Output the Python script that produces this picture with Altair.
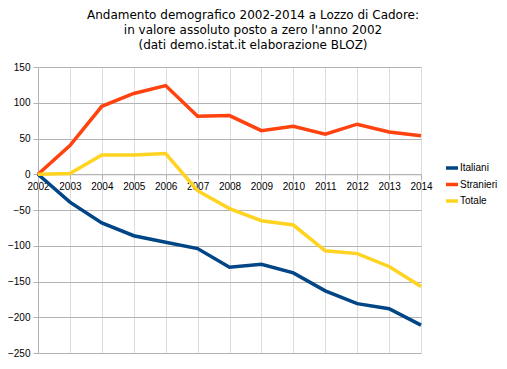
import altair as alt
import pandas as pd

years = [2002, 2003, 2004, 2005, 2006, 2007, 2008, 2009, 2010, 2011, 2012, 2013, 2014]
italiani = [0, -39, -68, -86, -95, -104, -130, -126, -138, -163, -181, -188, -211]
stranieri = [0, 40, 95, 113, 124, 81, 82, 61, 67, 56, 70, 59, 54]
totale = [0, 1, 27, 27, 29, -23, -48, -65, -71, -107, -111, -129, -157]
series_names = ["Italiani", "Stranieri", "Totale"]
series_colors = ["#004586", "#ff420e", "#ffd320"]
y_ticks = [150, 100, 50, 0, -50, -100, -150, -200, -250]
title_lines = [
    "Andamento demografico 2002-2014 a Lozzo di Cadore:",
    "in valore assoluto posto a zero l'anno 2002",
    "(dati demo.istat.it elaborazione BLOZ)",
]

rows = []
for name, vals in zip(series_names, [italiani, stranieri, totale]):
    for yr, v in zip(years, vals):
        rows.append({"anno": yr, "valore": v, "serie": name})
df = pd.DataFrame(rows)

W, H = 383, 286
ymin, ymax = -250, 150
zero_offset = -(H - H * ymax / (ymax - ymin))

chart = alt.Chart(df).mark_line(strokeWidth=3.5, strokeJoin="miter").encode(
    x=alt.X("anno:Q", scale=alt.Scale(domain=[2002, 2014], nice=False, zero=False),
            axis=alt.Axis(values=years, format="d", title=None, offset=zero_offset,
                          grid=True, gridColor="#dddddd", gridWidth=1,
                          domainColor="#b3b3b3", tickColor="#b3b3b3", tickSize=5,
                          labelFontSize=10, labelFont="Liberation Sans", labelColor="#000000",
                          labelPadding=2, labelFlush=False, labelOverlap=False)),
    y=alt.Y("valore:Q", scale=alt.Scale(domain=[ymin, ymax], nice=False),
            axis=alt.Axis(values=y_ticks, title=None, grid=True, gridColor="#b3b3b3",
                          gridWidth=1, domainColor="#b3b3b3", tickColor="#b3b3b3", tickSize=5,
                          labelFontSize=10, labelFont="Liberation Sans", labelColor="#000000",
                          labelPadding=3)),
    color=alt.Color("serie:N", scale=alt.Scale(domain=series_names, range=series_colors),
                    legend=alt.Legend(title=None, orient="none", legendX=406, legendY=93,
                                      symbolType="stroke", symbolStrokeWidth=3.5,
                                      symbolSize=144, labelFontSize=10,
                                      labelFont="Liberation Sans", labelColor="#000000",
                                      labelOffset=0, rowPadding=1.5, padding=0)),
).properties(
    width=W, height=H,
    title=alt.TitleParams(text=title_lines, fontSize=12, font="DejaVu Sans",
                          fontWeight="normal", color="#000000", anchor="middle",
                          frame="group", dx=23.5, offset=10, lineHeight=15),
    autosize=alt.AutoSizeParams(type="none"),
    padding={"left": 30, "top": 59, "right": 78, "bottom": 6},
).configure_view(stroke=None)

chart.save("out.html", embed_options={"renderer": "svg", "actions": False})
